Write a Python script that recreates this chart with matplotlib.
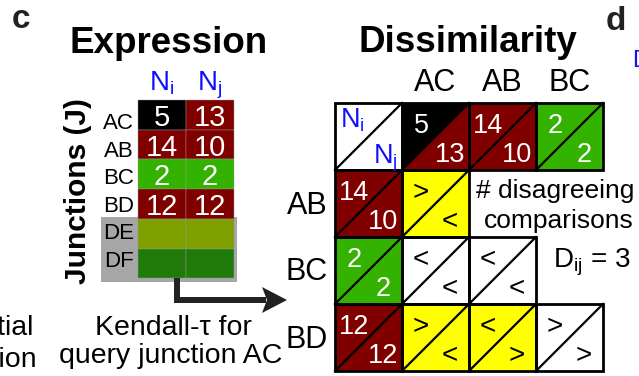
import matplotlib.pyplot as plt
from matplotlib.patches import Polygon, Rectangle

plt.rcParams['font.family'] = ['Liberation Sans', 'DejaVu Sans']
plt.rcParams['mathtext.fontset'] = 'custom'
plt.rcParams['mathtext.rm'] = 'Liberation Sans'

# expression counts per junction
junctions = ['AC', 'AB', 'BC', 'BD', 'DE', 'DF']
n_i = [5, 14, 2, 12, None, None]
n_j = [13, 10, 2, 12, None, None]
ni_colors = ['#000000', '#800000', '#33b300', '#800000', '#80a000', '#207a0a']
nj_colors = ['#800000', '#800000', '#33b300', '#800000', '#80a000', '#207a0a']
grey_rows = ['DE', 'DF']

# dissimilarity matrix: columns and rows (lower triangle)
dis_cols = ['AC', 'AB', 'BC']
dis_rows = ['AB', 'BC', 'BD']

BLUE = '#1010ff'
YELLOW = '#ffff00'
DARK = '#222222'

fig = plt.figure(figsize=(6.39, 3.76), dpi=100)
ax = fig.add_axes([0, 0, 1, 1])
ax.set_xlim(0, 639)
ax.set_ylim(376, 0)
ax.axis('off')

# ---- panel c: expression table ----
ax.text(12, 28, 'c', fontsize=24, fontweight='bold', color='#222222')
ax.text(169, 53, 'Expression', fontsize=26.5, fontweight='bold', ha='center')
ax.text(78, 191, 'Junctions (J)', fontsize=21.5, fontweight='bold',
        rotation=90, ha='center', va='center')

ex_x = [138, 186, 234]
ex_y0, ex_h = 100, 29.7
ax.text(162, 90, r'N$_\mathrm{i}$', fontsize=20, color=BLUE, ha='center')
ax.text(210, 90, r'N$_\mathrm{j}$', fontsize=20, color=BLUE, ha='center')

gi = junctions.index(grey_rows[0])
ax.add_patch(Rectangle((101, ex_y0 + gi * ex_h - 1.5), 136, 65,
                       facecolor='#a6a6a6', edgecolor='none', zorder=1))

for k, name in enumerate(junctions):
    top = ex_y0 + k * ex_h
    for col, (vals, cols) in enumerate([(n_i, ni_colors), (n_j, nj_colors)]):
        ax.add_patch(Rectangle((ex_x[col], top), ex_x[col + 1] - ex_x[col], ex_h,
                               facecolor=cols[k], edgecolor='#9a9a9a',
                               lw=0.3, zorder=2))
        if vals[k] is not None:
            ax.text((ex_x[col] + ex_x[col + 1]) / 2, top + ex_h / 2 + 11,
                    str(vals[k]), fontsize=21, color='white', ha='center', zorder=3)
    ax.text(134, 129 + k * 27.6, name, fontsize=16, ha='right', zorder=3)

# arrow to the dissimilarity matrix
ax.plot([177, 177, 266], [278, 300, 300], color=DARK, lw=4.3,
        solid_joinstyle='miter', solid_capstyle='butt', zorder=4)
ax.add_patch(Polygon([(262, 287), (287, 300), (262, 313), (267, 300)],
                     closed=True, facecolor=DARK, edgecolor='none', zorder=4))

ax.text(173, 335, 'Kendall-τ for', fontsize=20.5, ha='center')
ax.text(170.5, 363, 'query junction AC', fontsize=20.5, ha='center')
ax.text(34, 335, 'Differential', fontsize=20.5, ha='right')
ax.text(37, 367, 'expression', fontsize=20.5, ha='right')

# ---- panel d: dissimilarity matrix ----
ax.text(468, 52, 'Dissimilarity', fontsize=26.5, fontweight='bold', ha='center')
ax.text(606, 30, 'd', fontsize=24, fontweight='bold', color='#222222')
ax.text(632, 67, 'D', fontsize=17, color=BLUE)

gx0, gy0, s = 335, 103, 67


def split_cell(cx, cy, c_top, c_bot, t_top, t_bot, tcol, fs):
    x, y = gx0 + cx * s, gy0 + cy * s
    ax.add_patch(Polygon([(x, y), (x + s, y), (x, y + s)], closed=True,
                         facecolor=c_top, edgecolor='none', zorder=2))
    ax.add_patch(Polygon([(x + s, y), (x + s, y + s), (x, y + s)], closed=True,
                         facecolor=c_bot, edgecolor='none', zorder=2))
    ax.plot([x, x + s], [y + s, y], color='black', lw=1.6, zorder=3)
    ax.add_patch(Rectangle((x, y), s, s, facecolor='none', edgecolor='black',
                           lw=2, zorder=4))
    ax.text(x + 19, y + 30, t_top, fontsize=fs, color=tcol, ha='center', zorder=5)
    ax.text(x + 48, y + 59, t_bot, fontsize=fs, color=tcol, ha='center', zorder=5)


# corner cell
split_cell(0, 0, 'white', 'white', '', '', 'black', 19)
ax.text(340, 128, r'N$_\mathrm{i}$', fontsize=19.5, color=BLUE, zorder=5)
ax.text(373, 163, r'N$_\mathrm{j}$', fontsize=19.5, color=BLUE, zorder=5)

# header row and first column with the counts
for c, name in enumerate(dis_cols):
    k = junctions.index(name)
    ax.text(gx0 + (c + 1.5) * s, 91, name, fontsize=22, ha='center')
    split_cell(c + 1, 0, ni_colors[k], nj_colors[k], str(n_i[k]), str(n_j[k]),
               'white', 19.5)

n_disagree = 0
for r, name in enumerate(dis_rows):
    k = junctions.index(name)
    ax.text(328, gy0 + (r + 1.5) * s + 10, name, fontsize=22, ha='right')
    split_cell(0, r + 1, ni_colors[k], nj_colors[k], str(n_i[k]), str(n_j[k]),
               'white', 19.5)
    # pairwise order comparisons against earlier junctions
    for c, other in enumerate(dis_cols):
        m = junctions.index(other)
        if m >= k:
            continue
        sym_i = '>' if n_i[k] > n_i[m] else '<'
        sym_j = '>' if n_j[k] > n_j[m] else '<'
        fill = YELLOW if sym_i != sym_j else 'white'
        n_disagree += sym_i != sym_j
        split_cell(c + 1, r + 1, fill, fill, sym_i, sym_j, 'black', 20)

ax.text(634, 198, '# disagreeing', fontsize=19, ha='right')
ax.text(634, 228, 'comparisons', fontsize=19, ha='right')
ax.text(553, 267, r'D$_\mathrm{ij}$ = %d' % n_disagree, fontsize=20)

fig.savefig('out.png', dpi=100)
